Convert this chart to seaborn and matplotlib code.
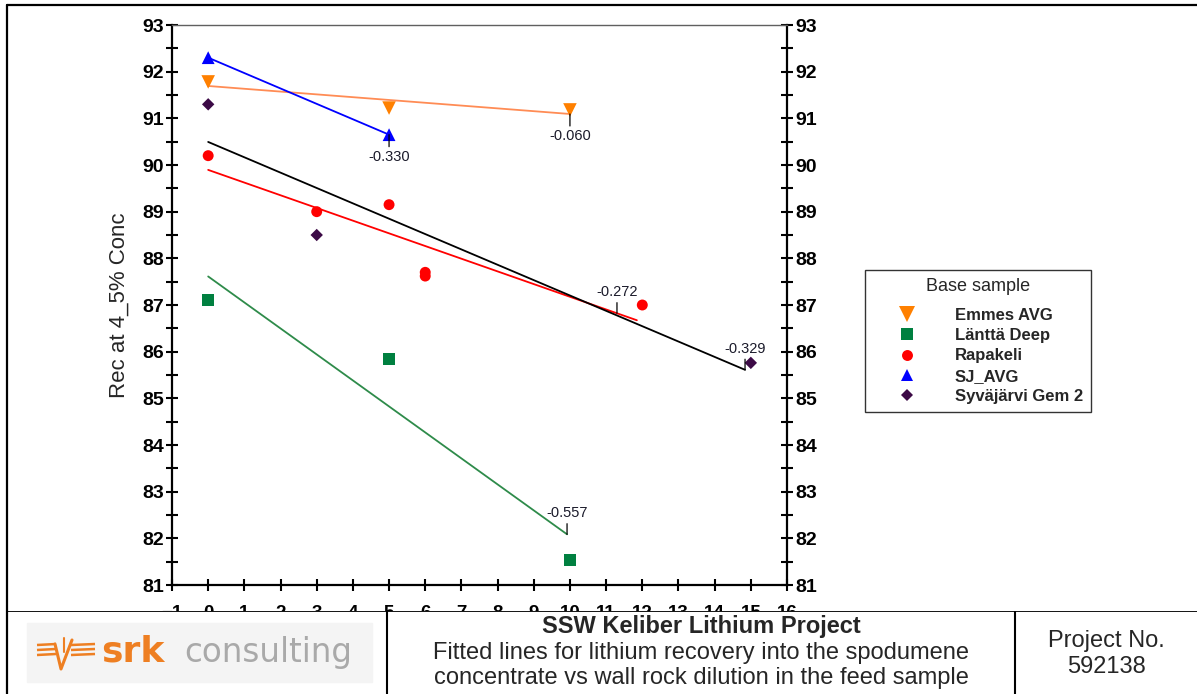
import numpy as np
import pandas as pd
import matplotlib
matplotlib.use("Agg")
import matplotlib.pyplot as plt
import seaborn as sns
from matplotlib.lines import Line2D
from matplotlib.patches import Rectangle
from matplotlib.ticker import MultipleLocator

# ---------------- data ----------------
samples = ["Emmes AVG", "Länttä Deep", "Rapakeli", "SJ_AVG", "Syväjärvi Gem 2"]

emmes_x = [0, 5, 10]
emmes_y = [91.78, 91.22, 91.18]
lantta_x = [0, 5, 10]
lantta_y = [87.10, 85.85, 81.53]
rapakeli_x = [0, 3, 5, 6, 6, 12]
rapakeli_y = [90.20, 89.00, 89.15, 87.62, 87.70, 87.00]
sj_x = [0, 5]
sj_y = [92.30, 90.65]
syv_x = [0, 3, 15]
syv_y = [91.30, 88.50, 85.76]

# extent of each fitted line and where its slope label sits
fit_end = [10.0, 9.92, 11.85, 5.0, 14.84]
label_x = [10.0, 9.92, 11.3, 5.0, 14.84]
label_below = [True, False, False, True, False]

x_ticks = list(range(-1, 17))
y_ticks = list(range(81, 94))

# ---------------- styles ----------------
marker_col = {"Emmes AVG": "#FF8000", "Länttä Deep": "#008040", "Rapakeli": "#FF0000",
              "SJ_AVG": "#0000FF", "Syväjärvi Gem 2": "#3C0A46"}
line_col = {"Emmes AVG": "#FF8C55", "Länttä Deep": "#2E8B4A", "Rapakeli": "#FF0000",
            "SJ_AVG": "#0000FF", "Syväjärvi Gem 2": "#000000"}
markers = {"Emmes AVG": "v", "Länttä Deep": "s", "Rapakeli": "o", "SJ_AVG": "^",
           "Syväjärvi Gem 2": "D"}
sizes = {"Emmes AVG": 95, "Länttä Deep": 72, "Rapakeli": 62, "SJ_AVG": 85,
         "Syväjärvi Gem 2": 40}

xs_all = [emmes_x, lantta_x, rapakeli_x, sj_x, syv_x]
ys_all = [emmes_y, lantta_y, rapakeli_y, sj_y, syv_y]
df = pd.concat([pd.DataFrame({"sample": s, "dilution": x, "rec": y})
                for s, x, y in zip(samples, xs_all, ys_all)], ignore_index=True)

sns.set_style("white")
plt.rcParams['font.family'] = ['Liberation Sans', 'DejaVu Sans']

W, H = 1197, 694
fig = plt.figure(figsize=(W / 100, H / 100), dpi=100)
fig.patch.set_facecolor("white")

L, R, T, B = 172, 787, 25, 585
ax = fig.add_axes([L / W, 1 - B / H, (R - L) / W, (B - T) / H])

# fitted lines
for s, x, y, xe, lx, below in zip(samples, xs_all, ys_all, fit_end, label_x, label_below):
    coef = np.polyfit(x, y, 1)
    xl = np.array([min(x), xe])
    sns.lineplot(x=xl, y=np.polyval(coef, xl), color=line_col[s], lw=1.3, ax=ax,
                 legend=False, zorder=2)
    yy = np.polyval(coef, lx)
    if below:
        ax.annotate(f"{coef[0]:.3f}", xy=(lx, yy), xytext=(0, -11), textcoords="offset points",
                    ha="center", va="top", fontsize=10.5, color="#1a1a2a",
                    arrowprops=dict(arrowstyle="-", color="black", lw=0.9,
                                    shrinkA=0, shrinkB=0, relpos=(0.5, 1.0)), zorder=4)
    else:
        ax.annotate(f"{coef[0]:.3f}", xy=(lx, yy), xytext=(0, 10), textcoords="offset points",
                    ha="center", va="bottom", fontsize=10.5, color="#1a1a2a",
                    arrowprops=dict(arrowstyle="-", color="black", lw=0.9,
                                    shrinkA=0, shrinkB=0, relpos=(0.5, 0.0)), zorder=4)

# points
sns.scatterplot(data=df, x="dilution", y="rec", hue="sample", style="sample", size="sample",
                palette=marker_col, markers=markers, sizes=sizes, edgecolor="none",
                linewidth=0, legend=False, ax=ax, zorder=3)

ax.set_xlim(-1, 16)
ax.set_ylim(81, 93)
ax.set_xticks(x_ticks)
ax.set_yticks(y_ticks)
ax.yaxis.set_minor_locator(MultipleLocator(0.5))
ax.set_xlabel("")
ax.set_ylabel("Rec at 4_5% Conc", fontsize=16)
ax.yaxis.set_label_coords(-0.068, 0.5)

ax.tick_params(axis="both", which="both", direction="inout", length=8, width=1.5,
               color="black", labelcolor="black")
ax.tick_params(axis="y", which="both", left=True, right=True, labelleft=True,
               labelright=True, labelsize=14, pad=2)
ax.tick_params(axis="x", which="major", bottom=True, top=False, labelsize=13.5, pad=10.5)
for lab in ax.get_xticklabels() + ax.get_yticklabels():
    lab.set_fontweight("bold")

for side in ["left", "right", "bottom"]:
    ax.spines[side].set_color("black")
    ax.spines[side].set_linewidth(1.6)
ax.spines["top"].set_color("#606060")
ax.spines["top"].set_linewidth(1.0)

# legend
handles = [Line2D([], [], linestyle="none", marker=markers[s], color=marker_col[s],
                  markersize=np.sqrt(sizes[s]) * (1.2 if s == "Emmes AVG" else 1.0),
                  markeredgewidth=0) for s in samples]
leg = fig.legend(handles, samples, title="Base sample", loc="upper left",
                 bbox_to_anchor=(865 / W, 1 - 270 / H), borderaxespad=0,
                 frameon=True, fancybox=False, shadow=False, edgecolor="black",
                 prop={"size": 12, "weight": "bold"}, title_fontsize=13,
                 handlelength=4.0, handletextpad=0.9, labelspacing=0.32, borderpad=0.5)
leg.get_frame().set_linewidth(1.0)
leg._legend_box.sep = 9

# ---------------- footer ----------------
fax = fig.add_axes([0, 0, 1, (H - 611) / H])
fax.set_zorder(5)
fax.set_xlim(0, W)
fax.set_ylim(H, 611)
fax.set_axis_off()
fax.add_patch(Rectangle((0, 611), W, H - 611, color="white", zorder=0))
fax.plot([7, W], [611.5, 611.5], color="black", lw=1.3, zorder=2)
fax.plot([387, 387], [611, H], color="black", lw=1.5, zorder=2)
fax.plot([1015, 1015], [611, H], color="black", lw=1.5, zorder=2)

# logo
fax.add_patch(Rectangle((27, 623), 345, 59, color="#f4f4f4", zorder=1))
org = "#EE7F22"
for yb in (645, 650, 655):
    fax.plot([37, 56], [yb, yb - 1], color=org, lw=1.8, solid_capstyle="butt", zorder=2)
    fax.plot([71, 95], [yb, yb - 1], color=org, lw=1.8, solid_capstyle="butt", zorder=2)
fax.plot([55, 61, 72], [644, 669, 640], color=org, lw=2.2, zorder=2)
fax.plot([64, 64], [638, 652], color=org, lw=1.5, zorder=2)
fax.text(101, 662, "srk", fontsize=26, fontweight="bold", color=org,
         family="DejaVu Sans", ha="left", va="baseline", zorder=3)
fax.text(184, 662, "consulting", fontsize=23.5, color="#a9a9a9",
         family="DejaVu Sans", ha="left", va="baseline", zorder=3)

cx = (387 + 1015) / 2
fax.text(cx, 627, "SSW Keliber Lithium Project", fontsize=17, fontweight="bold",
         ha="center", va="center", zorder=3)
fax.text(cx, 653, "Fitted lines for lithium recovery into the spodumene", fontsize=17,
         ha="center", va="center", zorder=3)
fax.text(cx, 678, "concentrate vs wall rock dilution in the feed sample", fontsize=17,
         ha="center", va="center", zorder=3)
fax.text(1106, 641, "Project No.", fontsize=17, ha="center", va="center", zorder=3)
fax.text(1106, 667, "592138", fontsize=17, ha="center", va="center", zorder=3)

# outer frame
fig.add_artist(Line2D([7 / W, 7 / W], [0, 1 - 5 / H], transform=fig.transFigure,
                      color="black", lw=1.6, zorder=20))
fig.add_artist(Line2D([7 / W, 1], [1 - 5 / H, 1 - 5 / H], transform=fig.transFigure,
                      color="black", lw=1.6, zorder=20))

fig.savefig("out.png", dpi=100, facecolor="white")
